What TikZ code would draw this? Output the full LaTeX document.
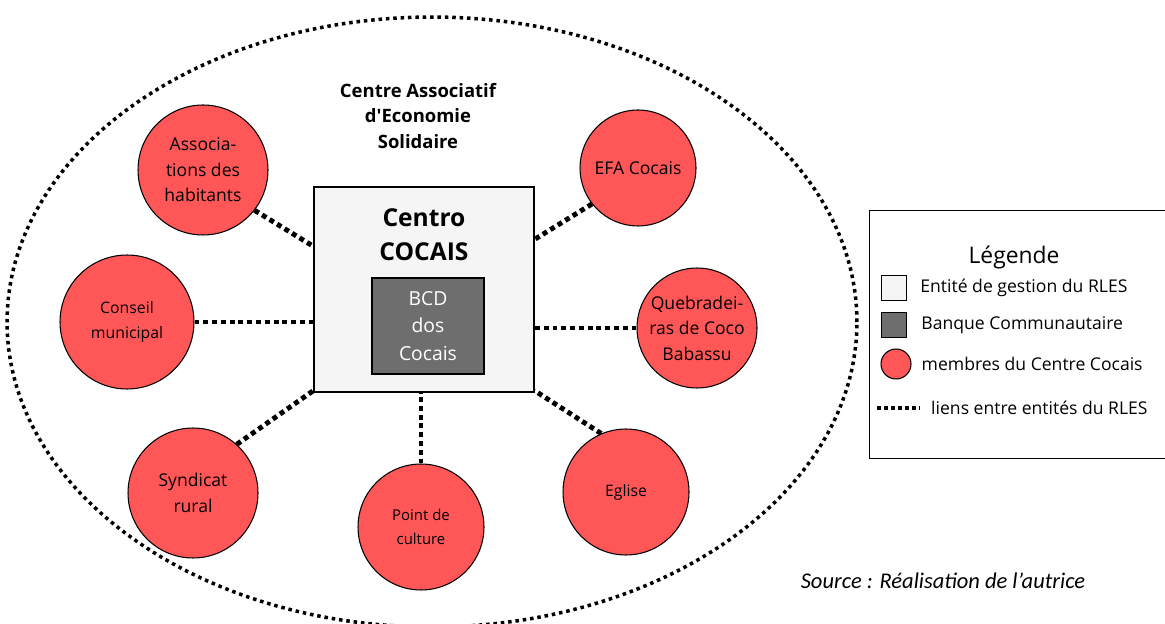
\documentclass[tikz,border=0pt]{standalone}
\usepackage{fontspec}
\setmainfont{Open Sans}[Ligatures=TeXOff]
\newfontfamily\sourcefont{Carlito}
\usetikzlibrary{positioning, calc}
\definecolor{MembreRed}{RGB}{255, 87, 87}
\definecolor{GestionGray}{RGB}{245, 245, 245}
\definecolor{BanqueGray}{RGB}{110, 110, 110}

\begin{document}
\begin{tikzpicture}[x=0.02cm, y=-0.02cm,
    membre/.style={circle, draw=black, line width=0.6pt, fill=MembreRed, align=center, inner sep=0pt, font=\fontsize{10}{14.5}\selectfont},
    lien/.style={line width=2.8pt, dash pattern=on 2.8pt off 2.2pt},
    enceinte/.style={line width=2pt, dash pattern=on 2pt off 2.2pt}]
    \useasboundingbox (0,0) rectangle (1165,624);
    \clip (0,0) rectangle (1165,624);

    % enceinte du centre associatif
    \draw[enceinte] (432,322) ellipse (8.5cm and 6.1cm);
    \node[font=\bfseries\fontsize{10.5}{14.5}\selectfont, align=center] (titre) at (418,116) {Centre Associatif\\d'Economie\\Solidaire};

    % entites de gestion
    \node[draw=black, line width=0.8pt, fill=GestionGray, minimum width=4.4cm, minimum height=4.1cm] (centre) at (424,289.5) {};
    \node[font=\bfseries\fontsize{14}{19.5}\selectfont, align=center] (nomcentre) at (424,235) {Centro\\COCAIS};
    \node[draw=black, line width=0.8pt, fill=BanqueGray, minimum width=2.24cm, minimum height=1.92cm, text=white, align=center, font=\fontsize{11}{15.5}\selectfont] (bcd) at (428,326) {BCD\\dos\\Cocais};

    % membres
    \node[membre, minimum size=2.6cm] (assoc) at (203,170) {Associa-\\tions des\\habitants};
    \node[membre, minimum size=2.32cm] (efa) at (638,168) {EFA Cocais};
    \node[membre, minimum size=2.68cm, font=\fontsize{9}{14}\selectfont] (conseil) at (127,322) {Conseil\\municipal};
    \node[membre, minimum size=2.4cm] (queb) at (697,328) {Quebradei-\\ras de Coco\\Babassu};
    \node[membre, minimum size=2.6cm] (syndicat) at (193,493) {Syndicat\\rural};
    \node[membre, minimum size=2.52cm, font=\fontsize{8.5}{13.5}\selectfont] (culture) at (421,527) {Point de\\culture};
    \node[membre, minimum size=2.52cm, font=\fontsize{9}{13}\selectfont] (eglise) at (626,492) {Eglise};

    % liens
    \draw[lien] (assoc.-38) -- ($(centre.north west)+(0,60)$);
    \draw[lien] (efa.-142) -- ($(centre.north east)+(0,53)$);
    \draw[lien] (conseil.east) -- (conseil.east -| centre.west);
    \draw[lien] (queb.west) -- (queb.west -| centre.east);
    \draw[lien] (syndicat.48) -- ($(centre.south west)+(0,-2)$);
    \draw[lien] (culture.north) -- (culture.north |- centre.south);
    \draw[lien] (eglise.113) -- ($(centre.south east)+(0,-2)$);

    % legende
    \node[draw=black, line width=0.8pt, minimum width=6.4cm, minimum height=4.96cm, anchor=north west] (legende) at (869,210) {};
    \node[font=\fontsize{13}{16}\selectfont] (legtitre) at (1014,257) {Légende};
    \node[draw=black, line width=0.8pt, fill=GestionGray, minimum size=0.5cm, inner sep=0pt] (leggestion) at (894,288) {};
    \node[right=0.14cm of leggestion, font=\fontsize{10}{12}\selectfont] (txtgestion) {Entité de gestion du RLES};
    \node[draw=black, line width=0.8pt, fill=BanqueGray, minimum size=0.5cm, inner sep=0pt] (legbanque) at (894,325) {};
    \node[right=0.16cm of legbanque, font=\fontsize{10}{12}\selectfont] (txtbanque) {Banque Communautaire};
    \node[circle, draw=black, line width=0.6pt, fill=MembreRed, minimum size=0.6cm, inner sep=0pt] (legmembre) at (896,364) {};
    \node[right=0.08cm of legmembre, font=\fontsize{10}{12}\selectfont] (txtmembre) {membres du Centre Cocais};
    \coordinate (lienA) at (877,408);
    \coordinate (lienB) at (920,408);
    \draw[line width=2.2pt, dash pattern=on 2.2pt off 1.8pt] (lienA) -- (lienB);
    \node[right=0.1cm of lienB, font=\fontsize{10}{12}\selectfont] (txtlien) {liens entre entités du RLES};

    \node[font=\sourcefont\itshape\fontsize{12.8}{15}\selectfont] (source) at (943,581) {Source : Réalisation de l’autrice};
\end{tikzpicture}
\end{document}
